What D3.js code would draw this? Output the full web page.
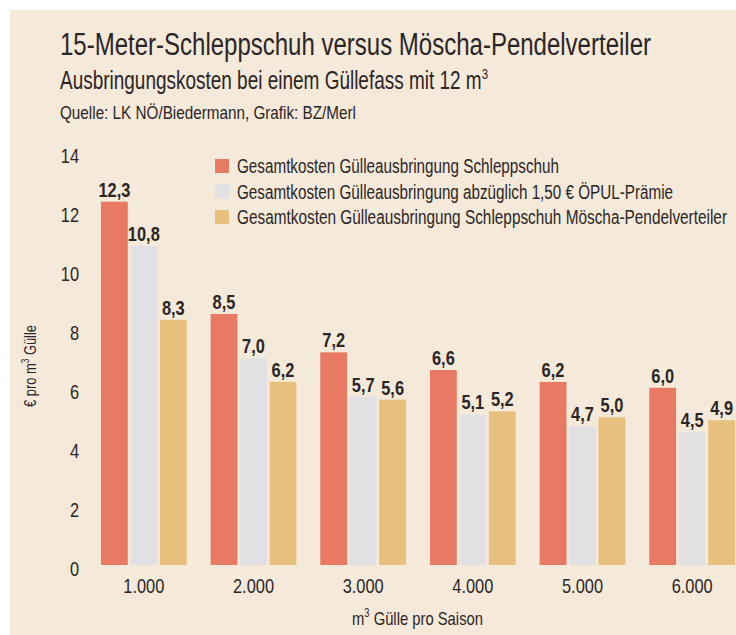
<!DOCTYPE html>
<html>
<head>
<meta charset="utf-8">
<script src="https://cdn.jsdelivr.net/npm/d3@7"></script>
<style>
  body { margin: 0; background: #fff; }
  svg text { font-family: "Liberation Sans", Arial, sans-serif; fill: #2b2626; }
</style>
</head>
<body>
<div id="chart"></div>
<script>
const categories = ["1.000", "2.000", "3.000", "4.000", "5.000", "6.000"];
const seriesNames = [
  "Gesamtkosten Gülleausbringung Schleppschuh",
  "Gesamtkosten Gülleausbringung abzüglich 1,50 € ÖPUL-Prämie",
  "Gesamtkosten Gülleausbringung Schleppschuh Möscha-Pendelverteiler"
];
const schleppschuh = [12.3, 8.5, 7.2, 6.6, 6.2, 6.0];
const abzueglichPraemie = [10.8, 7.0, 5.7, 5.1, 4.7, 4.5];
const moescha = [8.3, 6.2, 5.6, 5.2, 5.0, 4.9];
const yTicks = [0, 2, 4, 6, 8, 10, 12, 14];

const seriesKeys = ["s0", "s1", "s2"];
const colors = ["#e87a64", "#e1e1e3", "#e7c07d"];
const data = categories.map((c, i) => ({
  cat: c, s0: schleppschuh[i], s1: abzueglichPraemie[i], s2: moescha[i]
}));

// squeeze text horizontally, the original uses a condensed face
function condense(sel, factor) {
  sel.each(function () {
    const w = this.getComputedTextLength();
    d3.select(this)
      .attr("textLength", w * factor)
      .attr("lengthAdjust", "spacingAndGlyphs");
  });
}

const W = 736, H = 635;
const svg = d3.select("#chart").append("svg")
  .attr("width", W).attr("height", H);

svg.append("rect")
  .attr("x", 10).attr("y", 10)
  .attr("width", W - 10).attr("height", H - 10)
  .attr("fill", "#f5e9da");

// headings
svg.append("text")
  .attr("x", 60).attr("y", 55)
  .attr("font-size", 31)
  .attr("textLength", 591).attr("lengthAdjust", "spacingAndGlyphs")
  .text("15-Meter-Schleppschuh versus Möscha-Pendelverteiler");

const sub = svg.append("text")
  .attr("x", 60).attr("y", 89)
  .attr("font-size", 25)
  .attr("textLength", 428).attr("lengthAdjust", "spacingAndGlyphs");
sub.append("tspan").text("Ausbringungskosten bei einem Güllefass mit 12 m");
sub.append("tspan").attr("font-size", 15).attr("dy", -10).text("3");

svg.append("text")
  .attr("x", 60).attr("y", 119)
  .attr("font-size", 19)
  .attr("textLength", 296).attr("lengthAdjust", "spacingAndGlyphs")
  .text("Quelle: LK NÖ/Biedermann, Grafik: BZ/Merl");

// scales
const x0 = d3.scaleBand()
  .domain(categories)
  .range([89, 747])
  .paddingInner(0.218)
  .paddingOuter(0.109);

const x1 = d3.scaleBand()
  .domain(seriesKeys)
  .range([0, x0.bandwidth()])
  .paddingInner(0.09);

const y = d3.scaleLinear()
  .domain([0, 14])
  .range([565, 151.5]);

// y axis
const yAxis = svg.append("g")
  .attr("transform", "translate(79,0)")
  .call(d3.axisLeft(y).tickValues(yTicks).tickSize(0).tickPadding(0));
yAxis.select(".domain").remove();
yAxis.selectAll("text")
  .attr("font-size", 21)
  .attr("dy", "0.52em")
  .style("font-family", null)
  .call(condense, 0.78);

// x axis
const xAxis = svg.append("g")
  .attr("transform", "translate(0,565)")
  .call(d3.axisBottom(x0).tickSize(0).tickPadding(0));
xAxis.select(".domain").remove();
xAxis.selectAll("text")
  .attr("font-size", 21)
  .attr("y", 28)
  .attr("dy", 0)
  .style("font-family", null)
  .call(condense, 0.78);

// axis titles
const xt = svg.append("text")
  .attr("x", 352).attr("y", 625)
  .attr("font-size", 19)
  .attr("textLength", 131).attr("lengthAdjust", "spacingAndGlyphs");
xt.append("tspan").text("m");
xt.append("tspan").attr("font-size", 12).attr("dy", -8).text("3");
xt.append("tspan").attr("dy", 8).text(" Gülle pro Saison");

const yt = svg.append("text")
  .attr("transform", "translate(36,407) rotate(-90)")
  .attr("font-size", 17)
  .attr("textLength", 82).attr("lengthAdjust", "spacingAndGlyphs");
yt.append("tspan").text("€ pro m");
yt.append("tspan").attr("font-size", 11).attr("dy", -7).text("3");
yt.append("tspan").attr("dy", 7).text(" Gülle");

// bars
const groups = svg.append("g").selectAll("g")
  .data(data)
  .join("g")
  .attr("transform", d => `translate(${x0(d.cat)},0)`);

groups.selectAll("rect")
  .data(d => seriesKeys.map((k, i) => ({ key: k, i, value: d[k] })))
  .join("rect")
  .attr("x", d => x1(d.key))
  .attr("y", d => y(d.value))
  .attr("width", x1.bandwidth())
  .attr("height", d => y(0) - y(d.value))
  .attr("fill", d => colors[d.i]);

groups.selectAll("text.val")
  .data(d => seriesKeys.map((k, i) => ({ key: k, i, value: d[k] })))
  .join("text")
  .attr("class", "val")
  .attr("x", d => x1(d.key) + x1.bandwidth() / 2)
  .attr("y", d => y(d.value) - 5)
  .attr("text-anchor", "middle")
  .attr("font-size", 20)
  .attr("font-weight", "bold")
  .text(d => d3.format(".1f")(d.value).replace(".", ","))
  .call(condense, 0.82);

// legend
const legendWidths = [322, 436, 490];
const legend = svg.append("g").selectAll("g")
  .data(seriesNames)
  .join("g")
  .attr("transform", (d, i) => `translate(215,${166 + i * 25.5})`);

legend.append("rect")
  .attr("x", 0).attr("y", -7)
  .attr("width", 14).attr("height", 14)
  .attr("fill", (d, i) => colors[i]);

legend.append("text")
  .attr("x", 22).attr("y", 7)
  .attr("font-size", 20)
  .attr("textLength", (d, i) => legendWidths[i])
  .attr("lengthAdjust", "spacingAndGlyphs")
  .text(d => d);
</script>
</body>
</html>
